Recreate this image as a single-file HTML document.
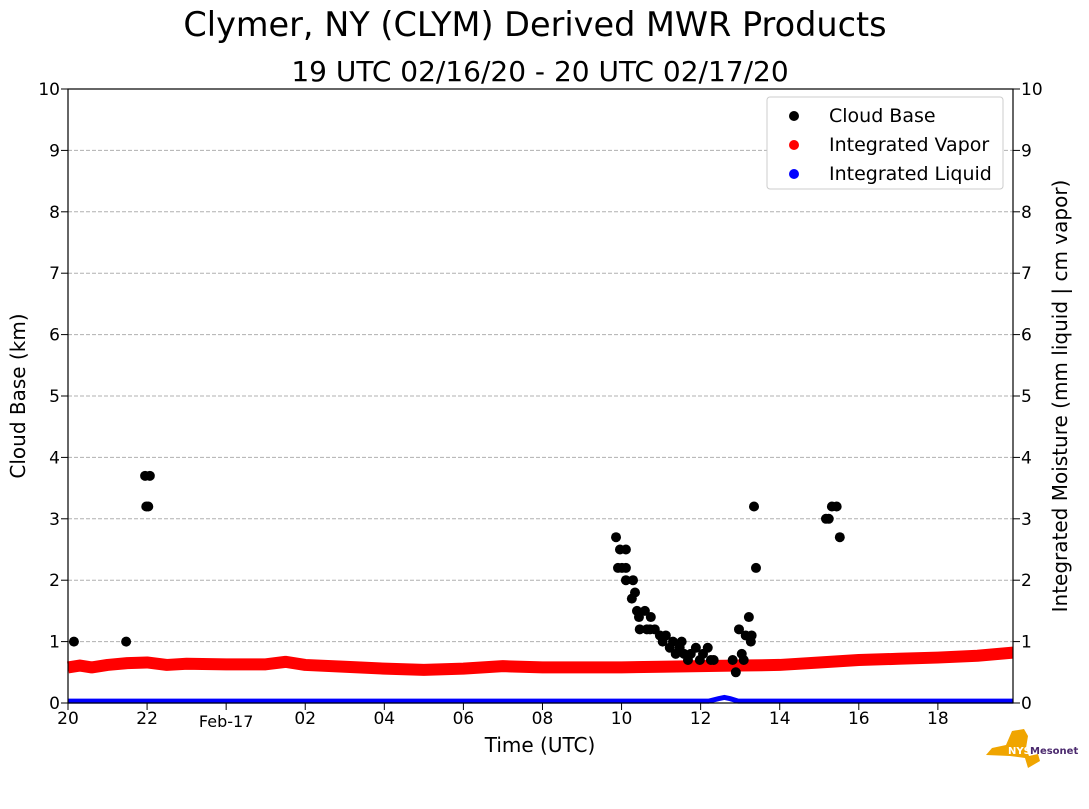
<!DOCTYPE html>
<html><head><meta charset="utf-8"><style>
body{margin:0;background:#fff;width:1089px;height:804px;overflow:hidden;font-family:"Liberation Sans","DejaVu Sans",sans-serif}
svg text{font-family:"DejaVu Sans","Liberation Sans",sans-serif}
</style></head><body>
<svg id="chart" width="1089" height="804">
<text x="535" y="36" font-size="33.5" text-anchor="middle">Clymer, NY (CLYM) Derived MWR Products</text>
<text x="540" y="81" font-size="28" text-anchor="middle">19 UTC 02/16/20 - 20 UTC 02/17/20</text>
<g id="grid"></g><g id="series"></g><g id="axes"></g>
<text x="25" y="396" font-size="20" text-anchor="middle" transform="rotate(-90 25 396)">Cloud Base (km)</text>
<text x="1067" y="396" font-size="20" text-anchor="middle" transform="rotate(-90 1067 396)">Integrated Moisture (mm liquid | cm vapor)</text>
<text x="540" y="752" font-size="20" text-anchor="middle">Time (UTC)</text>
<g>
<rect x="767" y="97" width="236" height="92" fill="#fff" stroke="#ccc" rx="3"/>
<circle cx="794" cy="116" r="5" fill="#000"/><text x="829" y="122" font-size="19">Cloud Base</text>
<circle cx="794" cy="145" r="5" fill="#f00"/><text x="829" y="151" font-size="19">Integrated Vapor</text>
<circle cx="794" cy="174" r="5" fill="#00f"/><text x="829" y="180" font-size="19">Integrated Liquid</text>
</g>
<g>
<polygon points="1012,731 1024,729 1028,736 1026,748 1029,756 1038,754 1040,761 1028,768 1025,758 1010,756 986,755 992,748 1006,745" fill="#f0a500"/>
<text x="1008" y="754" font-size="10" font-weight="bold" fill="#fff">NYS</text>
<text x="1030" y="754" font-size="10" font-weight="bold" fill="#4b2a6e">Mesonet</text>
</g>
</svg>
<script>
const cbHours=[0.15,1.47,1.95,2.07,1.98,2.03,13.86,13.91,14.01,13.96,14.11,14.11,14.11,14.29,14.26,14.34,14.39,14.44,14.46,14.59,14.64,14.74,14.72,14.84,14.97,15.04,15.12,15.22,15.30,15.37,15.47,15.52,15.58,15.68,15.75,15.88,15.98,16.06,16.18,16.26,16.33,16.81,16.89,16.97,17.04,17.09,17.14,17.22,17.27,17.29,17.35,17.40,19.17,19.24,19.32,19.44,19.52];
const cbKm=[1.0,1.0,3.7,3.7,3.2,3.2,2.7,2.2,2.2,2.5,2.5,2.2,2.0,2.0,1.7,1.8,1.5,1.4,1.2,1.5,1.2,1.4,1.2,1.2,1.1,1.0,1.1,0.9,1.0,0.8,0.9,1.0,0.8,0.7,0.8,0.9,0.7,0.8,0.9,0.7,0.7,0.7,0.5,1.2,0.8,0.7,1.1,1.4,1.0,1.1,3.2,2.2,3.0,3.0,3.2,3.2,2.7];
const vapHours=[0,0.3,0.6,1,1.5,2,2.5,3,4,5,5.5,6,7,8,9,10,10.5,11,12,13,14,15,16,17,18,19,20,21,22,23,23.9];
const vapVal=[0.58,0.61,0.58,0.62,0.65,0.66,0.62,0.64,0.63,0.63,0.67,0.62,0.59,0.56,0.54,0.56,0.58,0.60,0.58,0.58,0.58,0.59,0.60,0.61,0.62,0.66,0.70,0.72,0.74,0.77,0.82];
const liqHours=[0,16.2,16.45,16.6,16.75,16.95,23.9];
const liqVal=[0.03,0.03,0.07,0.09,0.07,0.03,0.03];
const xTickHours=[0,2,4,6,8,10,12,14,16,18,20,22];
const xTickLabels=['20','22','Feb-17','02','04','06','08','10','12','14','16','18'];
const yTicks=[0,1,2,3,4,5,6,7,8,9,10];
const X0=68,X1=1013,Y0=703,Y1=89,HMAX=23.9;
const xs=h=>X0+h*(X1-X0)/HMAX, ys=v=>Y0-v*(Y0-Y1)/10;
const NS='http://www.w3.org/2000/svg';
function mk(t,a,p){const e=document.createElementNS(NS,t);for(const k in a)e.setAttribute(k,a[k]);p.appendChild(e);return e;}
const grid=document.getElementById('grid'),ser=document.getElementById('series'),ax=document.getElementById('axes');
yTicks.forEach(v=>{
 if(v>0&&v<10){const g=mk('line',{x1:X0,x2:X1,y1:ys(v),y2:ys(v),stroke:'#b0b0b0','stroke-dasharray':'4,2'},grid);
 
 }
 [[X0,-7,'end',X0-8],[X1,7,'start',X1+8]].forEach(([x,d,anc,tx])=>{
  mk('line',{x1:x,x2:x+d,y1:ys(v),y2:ys(v),stroke:'#000'},ax);
  const t=mk('text',{x:tx,y:ys(v)+6,'font-size':17,'text-anchor':anc},ax);t.textContent=v;
  
  
 });
});
xTickHours.forEach((h,i)=>{
 mk('line',{x1:xs(h),x2:xs(h),y1:Y0,y2:Y0+7,stroke:'#000'},ax);
 const t=mk('text',{x:xs(h),y:i==2?727:724,'font-size':i==2?16:17,'text-anchor':'middle'},ax);t.textContent=xTickLabels[i];
 
 
});
const fr=mk('rect',{x:X0,y:Y1,width:X1-X0,height:Y0-Y1,fill:'none',stroke:'#000','stroke-width':1.2},ax);


const vp=mk('polyline',{points:vapHours.map((h,i)=>xs(h)+','+ys(vapVal[i])).join(' '),fill:'none',stroke:'#f00','stroke-width':12,'stroke-linejoin':'round'},ser);


const lq=mk('polyline',{points:liqHours.map((h,i)=>xs(h)+','+ys(liqVal[i])).join(' '),fill:'none',stroke:'#00f','stroke-width':5},ser);


cbHours.forEach((h,i)=>{
 const c=mk('circle',{cx:xs(h),cy:ys(cbKm[i]),r:5,fill:'#000'},ser);
 
 
});
</script>
</body></html>
